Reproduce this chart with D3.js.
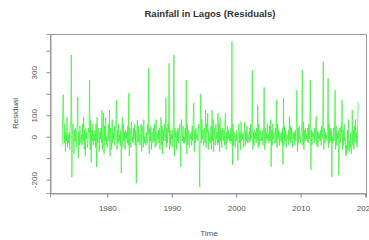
<!DOCTYPE html>
<html>
<head>
<meta charset="utf-8">
<script src="https://cdn.jsdelivr.net/npm/d3@7/dist/d3.min.js"></script>
<style>
  body { margin: 0; background: #fff; }
  text { font-family: "Liberation Sans", Arial, sans-serif; }
</style>
</head>
<body>
<script>
// monthly residuals, Jan 1973 .. Dec 2018 (one row per year)
const startYear = 1973;
const residuals = [
  -40, 120, 195, 40, -30, 60, -70, 20, -20, 90, -50, 10,     // 1973
  -30, 20, -60, 40, 80, 380, -188, 10, 60, -20, -80, 30,     // 1974
  -20, 40, -50, 10, 60, 185, -100, 20, -40, 50, 0, -30,      // 1975
  10, -40, 60, -20, 90, -60, 30, -90, 40, -10, 20, -50,      // 1976
  -30, 40, 20, 264, -60, 80, -120, 30, -20, 60, -40, 10,     // 1977
  -20, 30, -50, 60, -140, 90, -30, 40, 10, -70, 20, -10,     // 1978
  40, -30, 124, -60, 20, 110, -80, 50, -20, 90, -40, 0,      // 1979
  -50, 30, 60, -20, 124, -90, 40, 10, -60, 80, -30, 20,      // 1980
  -10, 50, -40, 20, 80, 170, -60, 30, -30, 60, -20, 10,      // 1981
  -40, 30, -170, 40, 90, -50, 60, -20, 20, -60, 30, -10,     // 1982
  20, -30, 50, -40, 203, -90, 40, 10, -50, 70, -20, 0,       // 1983
  -30, 40, -10, 60, -40, 30, -216, 20, 78, -30, 50, -20,     // 1984
  10, -40, 30, 60, -70, 50, 20, -50, 80, -30, 0, -20,        // 1985
  -40, 20, -30, 60, 10, 318, -80, 40, -20, 50, -60, 10,      // 1986
  20, -30, 40, -20, 60, -50, 30, 80, -40, 10, -10, 30,       // 1987
  -30, 40, -60, 20, 90, -40, 50, -80, 30, -20, 60, 0,        // 1988
  -20, 180, -50, 40, -30, 60, 20, 342, -60, 30, -40, 10,     // 1989
  -10, 30, -50, 60, 380, -90, 40, 0, 20, -60, 30, -20,       // 1990
  40, -30, 20, 60, -40, -140, 80, 10, -20, 50, -30, 0,       // 1991
  -30, 40, -20, 264, -80, 60, -40, 20, 30, -50, 10, -10,     // 1992
  20, -40, 50, -20, 90, 156, -70, 30, -30, 40, -10, 10,      // 1993
  -20, 30, 60, -40, -234, 50, 200, -30, 80, -10, 30, -40,    // 1994
  10, 40, -30, 124, -50, 60, 20, 110, -60, 30, -20, 0,       // 1995
  -30, 50, -60, 124, -20, 80, -70, 40, 10, -40, 60, -10,     // 1996
  20, -40, 110, -30, 60, -70, 90, -20, 30, -50, 40, 0,       // 1997
  -20, 30, -40, 70, 110, -60, 20, -30, 50, -10, 30, -20,     // 1998
  10, -30, 40, -20, 442, -130, 60, -40, 20, -10, -50, 10,    // 1999
  -20, 30, -10, -110, 40, 60, -30, 20, -60, 70, -20, 10,     // 2000
  -10, 20, -50, 40, 68, -40, 30, -20, 50, -30, 10, 0,        // 2001
  -30, 40, -20, 60, -10, 50, 310, -60, 20, -40, 30, -10,     // 2002
  20, -30, 40, -20, 148, -50, 60, -40, 10, 30, -20, 0,       // 2003
  -20, 30, -40, 50, 230, -60, 40, -30, 20, -10, 60, -20,     // 2004
  10, -30, 50, -20, 80, -140, 30, -40, 60, -10, 20, -30,     // 2005
  -20, 40, -30, 170, -50, 60, -10, 30, -40, 20, 10, -20,     // 2006
  20, -30, 40, -130, 180, -40, 50, -20, 30, -50, 10, 0,      // 2007
  -10, 30, -40, 93, -20, 50, -30, 40, 10, -50, 20, -10,      // 2008
  20, -40, 30, -20, 60, 217, -70, 40, -30, 50, -10, 0,       // 2009
  -30, 20, 50, 310, -40, 70, -60, 30, -20, 40, -10, 10,      // 2010
  -20, 40, -30, 60, -10, 50, 264, -155, 30, -40, 20, 0,      // 2011
  10, -30, 40, -20, 60, 93, -40, 30, -50, 20, -10, 10,       // 2012
  -20, 30, -40, 50, -10, 80, 349, -60, 40, -30, 20, -10,     // 2013
  10, -20, 40, 273, -50, 60, -30, 40, -20, 30, -187, 0,      // 2014
  -30, 40, -20, 60, 217, -60, 50, -40, 20, -10, 30, -180,    // 2015
  -20, 40, -30, 50, 20, 170, -60, 30, -40, 60, -20, 0,       // 2016
  -90, -40, -80, 30, -60, 80, -70, -20, -50, 20, -80, -30,   // 2017
  124, -40, 30, -60, 50, -20, 80, -30, 20, -50, 40, 160      // 2018
];
const xTicks = [1980, 1990, 2000, 2010, 2020];
const yTicks = [-200, -100, 0, 100, 200, 300, 400];
const yShown = [-200, 0, 100, 300];   // R drops the overlapping labels

const width = 369, height = 240;
const box = { left: 50, right: 366, top: 34, bottom: 193 };

const data = residuals.map((v, i) => ({ t: startYear + i / 12, v: v }));

const x = d3.scaleLinear().domain([1971.11, 2020.13]).range([box.left, box.right]);
const y = d3.scaleLinear().domain([-262, 478]).range([box.bottom, box.top]);

const svg = d3.select("body").append("svg")
    .attr("width", width)
    .attr("height", height);

// series
svg.append("path")
    .datum(data)
    .attr("fill", "none")
    .attr("stroke", "#2bf22b")
    .attr("stroke-opacity", 0.75)
    .attr("stroke-width", 0.9)
    .attr("stroke-linejoin", "round")
    .attr("d", d3.line().x(d => x(d.t)).y(d => y(d.v)));

// frame
svg.append("rect")
    .attr("x", box.left + 0.5)
    .attr("y", box.top + 0.5)
    .attr("width", box.right - box.left)
    .attr("height", box.bottom - box.top)
    .attr("fill", "none")
    .attr("stroke", "#999")
    .attr("stroke-width", 1);

// x axis
const gx = svg.append("g")
    .attr("transform", "translate(0," + (box.bottom + 0.5) + ")")
    .call(d3.axisBottom(x).tickValues(xTicks).tickSize(4).tickPadding(8).tickFormat(d3.format("d")));
gx.select(".domain").attr("stroke", "#999");
gx.selectAll(".tick line").attr("stroke", "#888");
gx.selectAll(".tick text")
    .attr("font-size", 8)
    .attr("fill", "#555")
    .attr("font-family", "Liberation Sans, Arial, sans-serif");

// y axis
const gy = svg.append("g")
    .attr("transform", "translate(" + (box.left + 0.5) + ",0)")
    .call(d3.axisLeft(y).tickValues(yTicks).tickSize(4)
        .tickFormat(d => yShown.includes(d) ? d : ""));
gy.select(".domain").attr("stroke", "#999");
gy.selectAll(".tick line").attr("stroke", "#888");
gy.selectAll(".tick text")
    .attr("font-size", 8)
    .attr("fill", "#555")
    .attr("font-family", "Liberation Sans, Arial, sans-serif")
    .attr("text-anchor", "middle")
    .attr("dy", 0)
    .attr("x", 0)
    .attr("transform", "translate(-14,0) rotate(-90)");

// title and axis titles
svg.append("text")
    .attr("x", 210)
    .attr("y", 17)
    .attr("text-anchor", "middle")
    .attr("font-size", 9.6)
    .attr("font-weight", "bold")
    .attr("fill", "#333")
    .text("Rainfall in Lagos (Residuals)");

svg.append("text")
    .attr("x", 209)
    .attr("y", 236)
    .attr("text-anchor", "middle")
    .attr("font-size", 8)
    .attr("fill", "#555")
    .text("Time");

svg.append("text")
    .attr("transform", "translate(18," + (box.top + box.bottom) / 2 + ") rotate(-90)")
    .attr("text-anchor", "middle")
    .attr("font-size", 8)
    .attr("fill", "#555")
    .text("Residual");
</script>
</body>
</html>
